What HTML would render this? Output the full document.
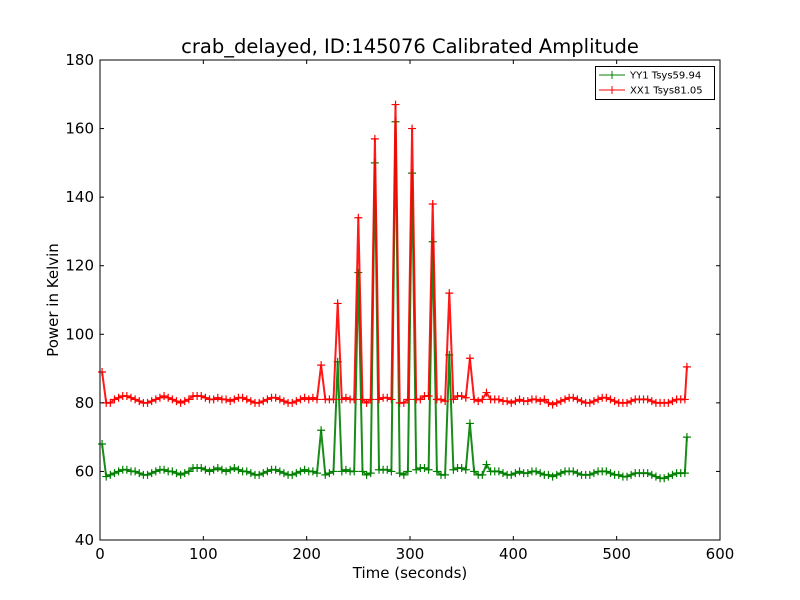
<!DOCTYPE html>
<html><head><meta charset="utf-8"><style>
body{margin:0;background:#fff;}
svg{display:block;font-family:"DejaVu Sans","Liberation Sans",sans-serif;}
</style></head><body>
<svg id="chart" width="800" height="600"></svg>
<script>
const times=[2,6,10,14,18,22,26,30,34,38,42,46,50,54,58,62,66,70,74,78,82,86,90,94,98,102,106,110,114,118,122,126,130,134,138,142,146,150,154,158,162,166,170,174,178,182,186,190,194,198,202,206,210,214,218,222,226,230,234,238,242,246,250,254,258,262,266,270,274,278,282,286,290,294,298,302,306,310,314,318,322,326,330,334,338,342,346,350,354,358,362,366,370,374,378,382,386,390,394,398,402,406,410,414,418,422,426,430,434,438,442,446,450,454,458,462,466,470,474,478,482,486,490,494,498,502,506,510,514,518,522,526,530,534,538,542,546,550,554,558,562,566,568];
const xxValues=[89,80,80,81,81.5,82,82,81.5,81,80.5,80,80,80.5,81,81.5,82,81.5,81,80.5,80,80.5,81,82,82,82,81.5,81,81,81.5,81,81,80.5,81,81.5,81.5,81,80.5,80,80,80.5,81,81.5,81.5,81,80.5,80,80,80.5,81,81.5,81,81.5,81,91,81,81,81,109,81,81.5,81,81,134,81,80,81,157,81,81.5,81.5,81,167,80,80,81,160,81,81,82,82,138,81,81,80.5,112,81,82,82,81.5,93,81,80.5,81,83,81,81,81,80.5,80.5,80,80.5,81,80.5,80.5,81,81,80.5,81,80,79.5,80,80.5,81,81.5,81.5,81,80.5,80,80,80.5,81,81.5,81.5,81,80.5,80,80,80,80.5,81,81,81,81,80.5,80,80,80,80,80.5,81,81,81,90.5];
const yyValues=[68,58.5,59,59.5,60,60.5,60.5,60,60,59.5,59,59,59.5,60,60.5,60.5,60,60,59.5,59,59.5,60,61,61,61,60.5,60,60.5,61,60.5,60,60.5,61,60.5,60,60,59.5,59,59,59.5,60,60.5,60.5,60,59.5,59,59,59.5,60,60.5,60,60,59.5,72,59,59.5,60,92,60,60.5,60,60,118,60,59,59.5,150,60.5,60.5,60.5,60,162,59.5,59,60,147,60.5,61,61,60.5,127,60,59,59,94,60.5,61,61,60.5,74,60,59,59,62,60,60,60,59.5,59,59,59.5,60,59.5,59.5,60,60,59.5,59,59,58.5,59,59.5,60,60,60,59.5,59,59,59,59.5,60,60,60,59.5,59,59,58.5,58.5,59,59.5,59.5,59.5,59.5,59,58.5,58,58,58.5,59,59.5,59.5,59.5,70];
const xTicks=[0,100,200,300,400,500,600];
const yTicks=[40,60,80,100,120,140,160,180];
const seriesNames=["YY1 Tsys59.94","XX1 Tsys81.05"];

const NS="http://www.w3.org/2000/svg";
const svg=document.getElementById('chart');
const L=100,R=720,T=60,B=540;
const xS=v=>L+(v-0)/600*(R-L);
const yS=v=>B-(v-40)/140*(B-T);
function el(tag,attrs,parent){const e=document.createElementNS(NS,tag);for(const k in attrs)e.setAttribute(k,attrs[k]);(parent||svg).appendChild(e);return e;}

const title=el('text',{x:410,y:53,'text-anchor':'middle','font-size':19.5});
title.textContent='crab_delayed, ID:145076 Calibrated Amplitude';



function drawSeries(vals,color,name){
  const g=el('g',{});
  
  
  let d='';
  times.forEach((t,i)=>{d+=(i?'L':'M')+xS(t).toFixed(1)+' '+yS(vals[i]).toFixed(1);});
  el('path',{d:d,fill:'none',stroke:color,'stroke-width':2,'stroke-linejoin':'round','stroke-opacity':0.9},g);
  let m='';
  times.forEach((t,i)=>{const x=xS(t),y=yS(vals[i]);m+=`M${x-4} ${y}h8M${x} ${y-4}v8`;});
  const mk=el('path',{d:m,stroke:color,'stroke-width':1.2,fill:'none'},g);
  
  
}
drawSeries(yyValues,'#008000','yy1-series');
drawSeries(xxValues,'#ff0000','xx1-series');

const frame=el('rect',{x:L,y:T,width:R-L,height:B-T,fill:'none',stroke:'#000','stroke-width':1});



xTicks.forEach(v=>{
  const x=xS(v);
  el('line',{x1:x,y1:B,x2:x,y2:B-4,stroke:'#000'});
  el('line',{x1:x,y1:T,x2:x,y2:T+4,stroke:'#000'});
  const t=el('text',{x:x,y:B+19,'text-anchor':'middle','font-size':15});
  t.textContent=v;
  
  
});
yTicks.forEach(v=>{
  const y=yS(v);
  el('line',{x1:L,y1:y,x2:L+4,y2:y,stroke:'#000'});
  el('line',{x1:R,y1:y,x2:R-4,y2:y,stroke:'#000'});
  const t=el('text',{x:L-6,y:y+5,'text-anchor':'end','font-size':15});
  t.textContent=v;
  
  
});
const xl=el('text',{x:410,y:578,'text-anchor':'middle','font-size':15});
xl.textContent='Time (seconds)';


const yl=el('text',{x:58,y:300,'text-anchor':'middle','font-size':15,transform:'rotate(-90 58 300)'});
yl.textContent='Power in Kelvin';



const lg=el('g',{});


el('rect',{x:595.5,y:66.5,width:119,height:33,fill:'#fff',stroke:'#000'},lg);
const cols=['#008000','#ff0000'];
seriesNames.forEach((n,i)=>{
  const y=75+i*15;
  const e=el('g',{},lg);
  
  
  el('line',{x1:599,y1:y,x2:625,y2:y,stroke:cols[i]},e);
  el('path',{d:`M608 ${y}h8M612 ${y-4}v8`,stroke:cols[i]},e);
  const t=el('text',{x:630,y:y+3.5,'font-size':10},e);
  t.textContent=n;
});
</script>
</body></html>
